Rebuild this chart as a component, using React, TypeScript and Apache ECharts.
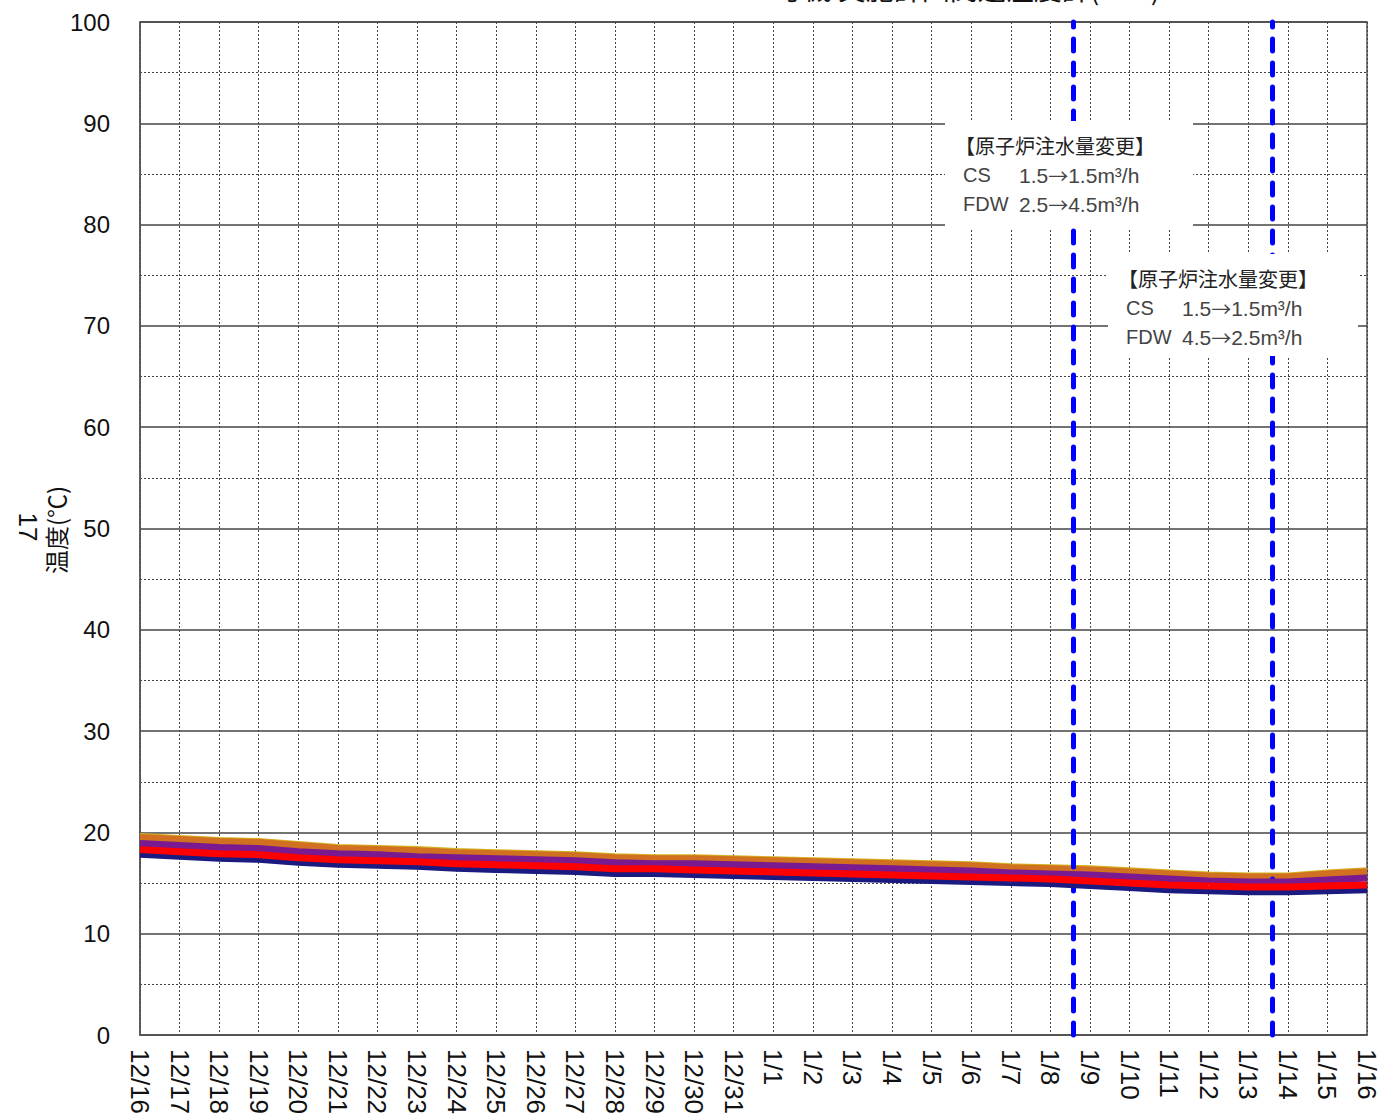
import React, { useEffect, useRef } from "react";
import * as echarts from "echarts";

const dates = [
  "12/16", "12/17", "12/18", "12/19", "12/20", "12/21", "12/22", "12/23",
  "12/24", "12/25", "12/26", "12/27", "12/28", "12/29", "12/30", "12/31",
  "1/1", "1/2", "1/3", "1/4", "1/5", "1/6", "1/7", "1/8",
  "1/9", "1/10", "1/11", "1/12", "1/13", "1/14", "1/15", "1/16",
];

const yellowSeries = [19.8, 19.6, 19.4, 19.3, 19.0, 18.7, 18.6, 18.5, 18.3, 18.2, 18.1, 18.0, 17.8, 17.7, 17.7, 17.6, 17.5, 17.4, 17.3, 17.2, 17.1, 17.0, 16.8, 16.7, 16.6, 16.4, 16.2, 16.0, 15.9, 15.9, 16.2, 16.4];
const orangeSeries = [19.5, 19.3, 19.1, 19.0, 18.7, 18.4, 18.3, 18.2, 18.0, 17.9, 17.8, 17.7, 17.5, 17.4, 17.4, 17.3, 17.2, 17.1, 17.0, 16.9, 16.8, 16.7, 16.5, 16.4, 16.3, 16.1, 15.9, 15.7, 15.6, 15.6, 15.9, 16.1];
const purpleSeries = [18.9, 18.7, 18.5, 18.4, 18.1, 17.9, 17.8, 17.6, 17.5, 17.4, 17.3, 17.2, 17.0, 16.9, 16.9, 16.8, 16.7, 16.6, 16.5, 16.4, 16.3, 16.2, 16.0, 15.9, 15.8, 15.6, 15.4, 15.2, 15.1, 15.1, 15.3, 15.5];
const redSeries = [18.3, 18.1, 17.9, 17.8, 17.5, 17.3, 17.2, 17.1, 16.9, 16.8, 16.7, 16.6, 16.4, 16.4, 16.3, 16.2, 16.1, 16.0, 15.9, 15.8, 15.7, 15.6, 15.5, 15.4, 15.2, 15.0, 14.8, 14.7, 14.6, 14.6, 14.7, 14.8];
const navySeries = [17.8, 17.6, 17.4, 17.3, 17.0, 16.8, 16.7, 16.6, 16.4, 16.3, 16.2, 16.1, 15.9, 15.9, 15.8, 15.7, 15.6, 15.5, 15.4, 15.3, 15.2, 15.1, 15.0, 14.9, 14.7, 14.5, 14.3, 14.2, 14.1, 14.1, 14.2, 14.3];

// positions of the injection-change events (fractional day index)
const eventPositions = [23.58, 28.6];

const titleText = "1号機 実施計画関連温度計(RPV)";
const noteTitle = "【原子炉注水量変更】";
const note1 = [["CS", "1.5", "1.5m³/h"], ["FDW", "2.5", "4.5m³/h"]];
const note2 = [["CS", "1.5", "1.5m³/h"], ["FDW", "4.5", "2.5m³/h"]];

const LATIN = "'Liberation Sans', Arial, sans-serif";
const CJK = "'Noto Sans CJK JP', sans-serif";

function toPairs(arr: number[]) {
  return arr.map((v, i) => [i, v]);
}

function valueText(x: number, y: number, row: string[]) {
  return {
    type: "text",
    z: 101,
    x,
    y,
    style: {
      text: `${row[1]}{a|→}${row[2]}`,
      font: `21px ${LATIN}`,
      fill: "#444",
      textVerticalAlign: "middle",
      rich: { a: { fontFamily: CJK, fontSize: 20, fill: "#444", color: "#444" } },
    },
  };
}

function noteBox(x: number, y: number, w: number, h: number, rows: string[][]) {
  const tx = x + 10;
  return [
    { type: "rect", z: 100, shape: { x, y, width: w, height: h }, style: { fill: "#ffffff" } },
    { type: "text", z: 101, x: tx, y: y + 24, style: { text: noteTitle, font: `20px ${CJK}`, fill: "#222", textVerticalAlign: "middle", textAlign: "left" } },
    { type: "text", z: 101, x: tx + 8, y: y + 54, style: { text: rows[0][0], font: `20px ${LATIN}`, fill: "#444", textVerticalAlign: "middle" } },
    valueText(tx + 64, y + 54, rows[0]),
    { type: "text", z: 101, x: tx + 8, y: y + 83, style: { text: rows[1][0], font: `20px ${LATIN}`, fill: "#444", textVerticalAlign: "middle" } },
    valueText(tx + 64, y + 83, rows[1]),
  ];
}

export default function App() {
  const ref = useRef<HTMLDivElement>(null);
  useEffect(() => {
    const chart = echarts.init(ref.current!, null, { renderer: "svg" });
    const lineSeries = (name: string, data: number[], color: string, width: number, z: number) => ({
      name,
      type: "line",
      data: toPairs(data),
      showSymbol: false,
      symbol: "none",
      z,
      lineStyle: { color, width },
      silent: true,
    });
    chart.setOption({
      animation: false,
      backgroundColor: "#ffffff",
      grid: { left: 140, right: 14, top: 22, bottom: 85, show: true, borderColor: "#555", borderWidth: 1.5 },
      xAxis: {
        type: "value",
        min: 0,
        max: dates.length - 1,
        interval: 1,
        axisLine: { show: true, lineStyle: { color: "#555", width: 1.5 } },
        axisTick: { show: false },
        axisLabel: {
          rotate: -90,
          margin: 14,
          fontSize: 26,
          fontFamily: LATIN,
          color: "#111",
          formatter: (v: number) => dates[Math.round(v)] ?? "",
        },
        splitLine: { show: true, lineStyle: { color: "#444", width: 1, type: [2, 2] } },
      },
      yAxis: {
        type: "value",
        min: 0,
        max: 100,
        interval: 10,
        axisLine: { show: true, lineStyle: { color: "#555", width: 1.5 } },
        axisTick: { show: false },
        axisLabel: { margin: 30, fontSize: 24, fontFamily: LATIN, color: "#111" },
        splitLine: { show: true, lineStyle: { color: "#444", width: 1.5 } },
        minorTick: { show: false, splitNumber: 2 },
        minorSplitLine: { show: true, lineStyle: { color: "#444", width: 1, type: [2, 2] } },
      },
      series: [
        lineSeries("T1", yellowSeries, "#d4b020", 3, 3),
        lineSeries("T2", orangeSeries, "#d07020", 7, 4),
        lineSeries("T3", purpleSeries, "#7a1a90", 7, 5),
        lineSeries("T4", navySeries, "#1a1a80", 6, 6),
        lineSeries("T5", redSeries, "#ff0000", 7, 7),
        {
          name: "events",
          type: "line",
          data: [],
          z: 8,
          markLine: {
            silent: true,
            symbol: ["none", "none"],
            label: { show: false },
            lineStyle: { color: "#0000ff", width: 5, type: [12, 12], cap: "round" },
            data: eventPositions.map((p) => ({ xAxis: p })),
          },
        },
      ],
      graphic: [
        { type: "text", z: 100, x: 960, y: -26, style: { text: titleText, font: `28px ${CJK}`, fill: "#111", textAlign: "center", textVerticalAlign: "top" } },
        { type: "text", z: 100, x: 55, y: 530, rotation: Math.PI / 2, style: { text: "温度(℃)", font: `24px ${CJK}`, fill: "#111", textAlign: "center", textVerticalAlign: "middle" } },
        { type: "text", z: 100, x: 28, y: 527, rotation: -Math.PI / 2, style: { text: "17", font: `26px ${LATIN}`, fill: "#111", textAlign: "center", textVerticalAlign: "middle" } },
        ...noteBox(945, 121, 248, 107, note1),
        ...noteBox(1108, 254, 250, 102, note2),
      ],
    });
    return () => chart.dispose();
  }, []);
  return (
    <div
      ref={ref}
      style={{ position: "absolute", left: 0, top: 0, width: 1381, height: 1120, background: "#fff" }}
    />
  );
}
